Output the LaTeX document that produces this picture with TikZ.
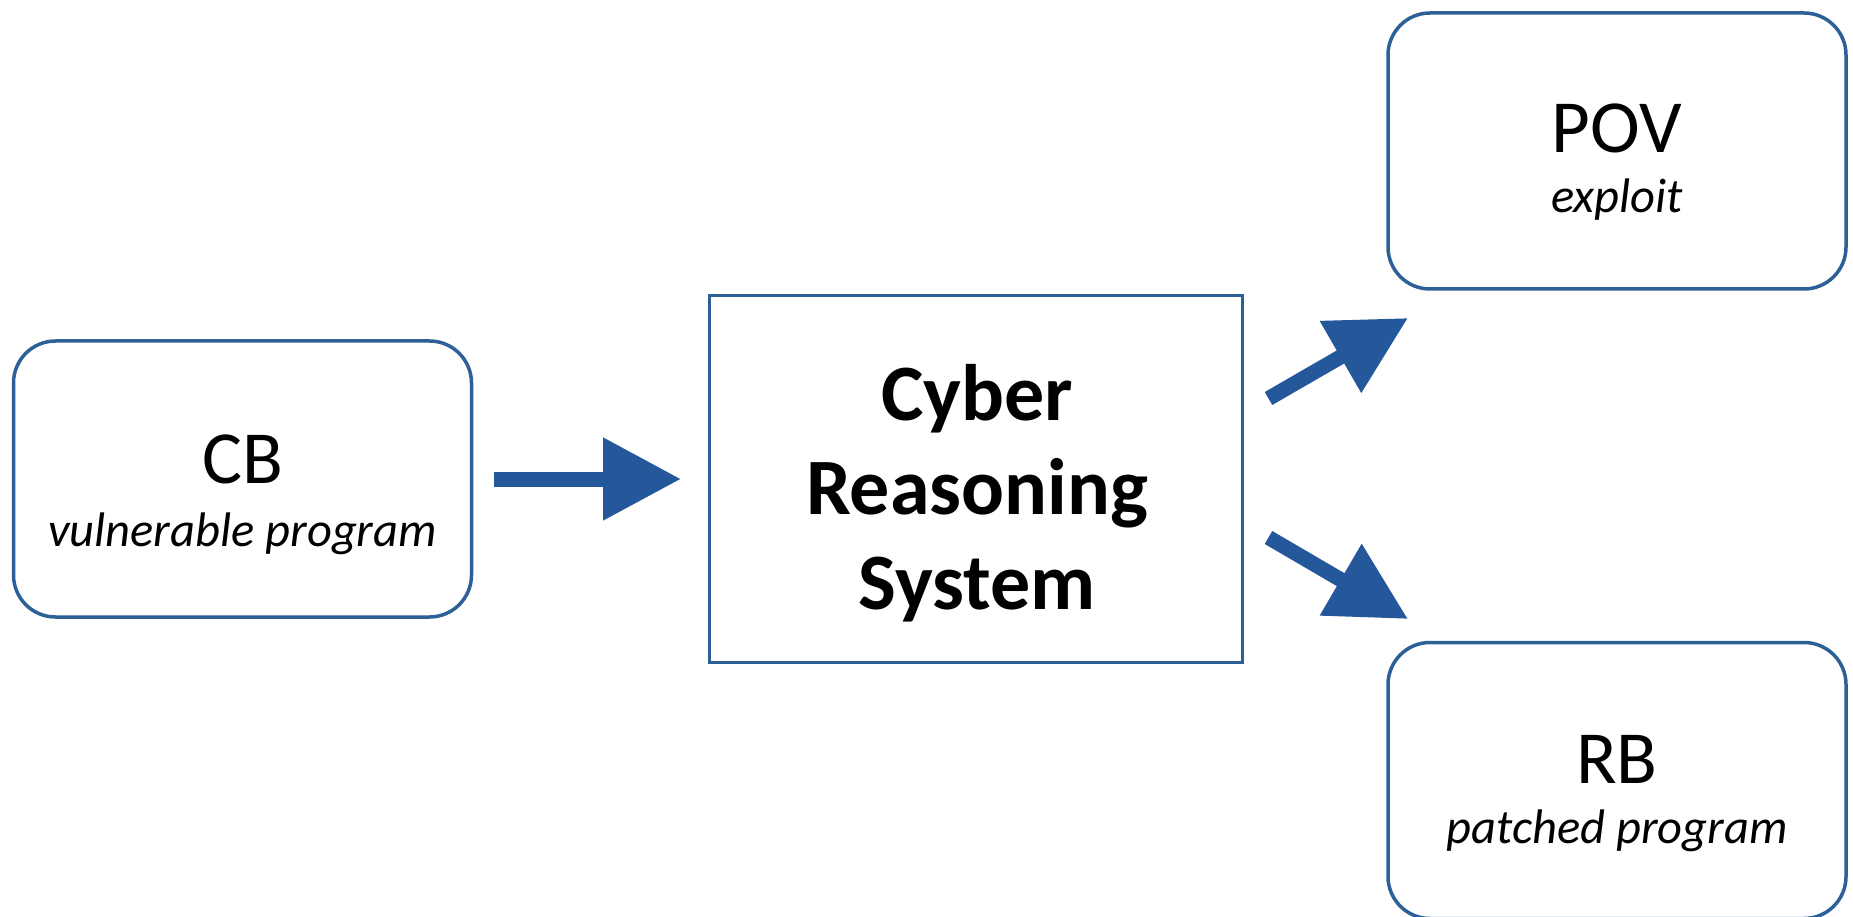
\documentclass[tikz,border=0pt]{standalone}
\usepackage{fontspec}
\setmainfont{Carlito}
\usetikzlibrary{arrows.meta,calc}
\definecolor{boxblue}{RGB}{46,96,152}
\definecolor{arrowblue}{RGB}{36,88,154}
\begin{document}
\begin{tikzpicture}[x=1pt,y=-1pt,
  rbox/.style={draw=boxblue, line width=3.5pt, rounded corners=42pt, fill=white,
    minimum width=458pt, minimum height=276pt, inner sep=0pt, outer sep=0pt},
  sbox/.style={draw=boxblue, line width=3pt, fill=white,
    minimum width=533pt, minimum height=366pt, inner sep=0pt, outer sep=0pt},
  ttl/.style={anchor=base, inner sep=0pt, font=\fontsize{75}{80}\selectfont},
  sub/.style={anchor=base, inner sep=0pt, font=\fontsize{48.5}{56}\selectfont\itshape},
  crs/.style={anchor=base, inner sep=0pt, font=\fontsize{80}{90}\selectfont\bfseries},
  bigarrow/.style={draw=arrowblue, line width=15pt, -{Triangle[length=78pt,width=79pt]}}]
\useasboundingbox (0,0) rectangle (1853,917);

\node[rbox] (CB) at (242.5,479) {};
\node[sbox] (CRS) at (975.5,479) {};
\node[rbox] (POV) at (1617,151) {};
\node[rbox] (RB) at (1617,780.5) {};

\node[ttl] (cbT) at (242.5,483) {CB};
\node[sub] (cbS) at (242.5,546) {vulnerable program};
\node[ttl] (povT) at (1617,153) {POV};
\node[sub] (povS) at (1617,213) {exploit};
\node[ttl] (rbT) at (1617,783) {RB};
\node[sub] (rbS) at (1617,843) {patched program};

\node[crs] (crs1) at (977,420) {Cyber};
\node[crs] (crs2) at (977,514) {Reasoning};
\node[crs] (crs3) at (977,609) {System};

\draw[bigarrow, shorten <=22pt, shorten >=28pt] (CB.east) -- (CRS.west);
\draw[bigarrow] ($(CRS.north east)+(26.5,102.5)$) -- ($(POV.south west)+(20,29)$);
\draw[bigarrow] ($(CRS.south east)+(26.5,-124.5)$) -- ($(RB.north west)+(20,-23.5)$);
\end{tikzpicture}
\end{document}
